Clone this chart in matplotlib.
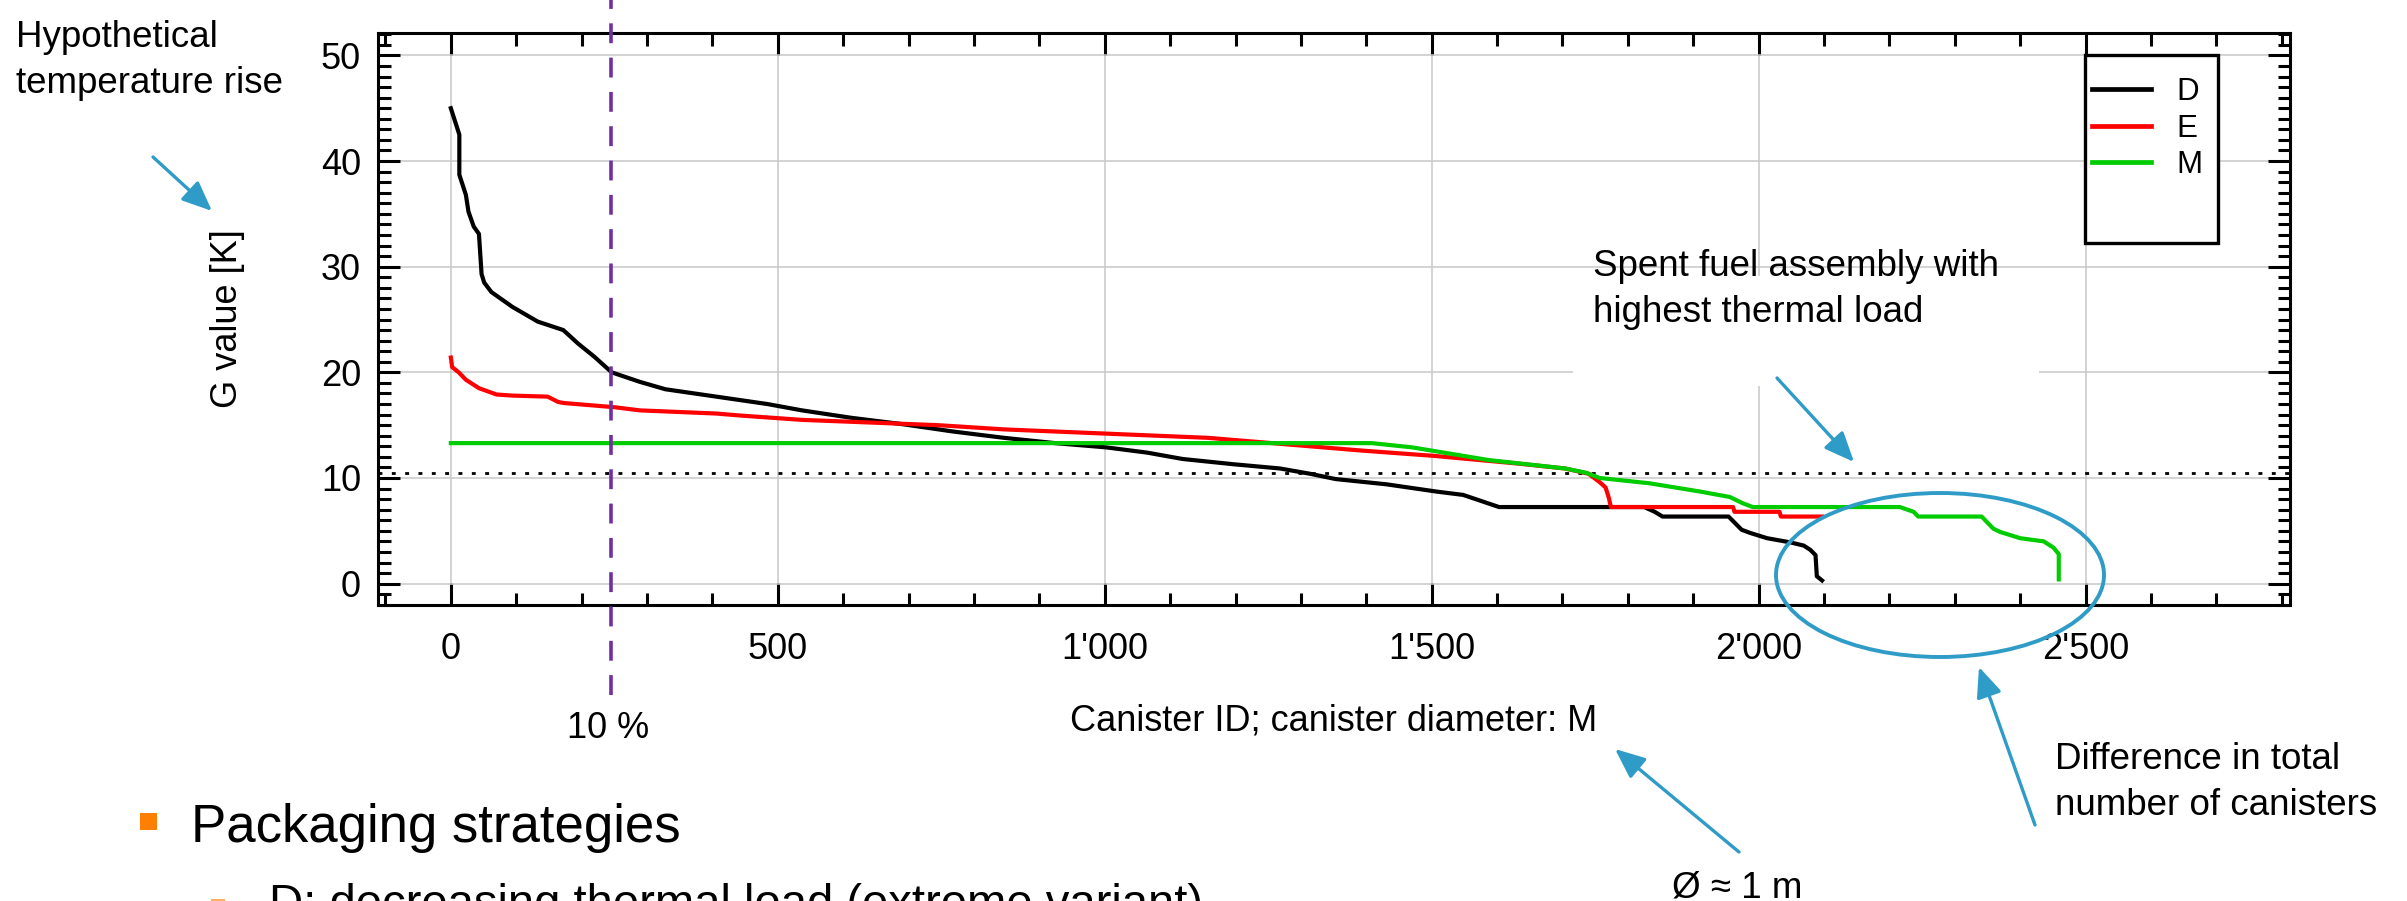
import matplotlib.pyplot as plt
from matplotlib.ticker import MultipleLocator, FuncFormatter
from matplotlib.patches import Ellipse, Rectangle, FancyArrowPatch

plt.rcParams['font.family'] = ['Liberation Sans', 'DejaVu Sans']

# G value per canister, sorted
d_x = [0, 13, 13, 23, 27, 35, 43, 47, 51, 62, 94, 133, 172, 195, 219, 246, 289,
       328, 406, 484, 537, 612, 690, 768, 846, 924, 1002, 1065, 1119, 1197, 1268,
       1314, 1353, 1431, 1509, 1548, 1572, 1603, 1825, 1841, 1853, 1954, 1974,
       1987, 2013, 2049, 2069, 2079, 2087, 2089, 2097]
d_y = [45.0, 42.5, 38.7, 36.8, 35.2, 33.8, 33.1, 29.3, 28.5, 27.6, 26.2, 24.8,
       24.0, 22.7, 21.5, 20.0, 19.1, 18.4, 17.7, 17.0, 16.4, 15.7, 15.1, 14.4,
       13.8, 13.3, 12.9, 12.4, 11.8, 11.3, 10.9, 10.4, 9.9, 9.4, 8.7, 8.4, 7.9,
       7.25, 7.25, 6.8, 6.35, 6.35, 5.1, 4.8, 4.3, 3.9, 3.6, 3.2, 2.7, 0.7, 0.3]

e_x = [0, 2, 12, 23, 43, 70, 94, 148, 164, 172, 250, 289, 406, 445, 537, 745,
       846, 1002, 1158, 1236, 1314, 1392, 1502, 1626, 1704, 1740, 1757, 1766,
       1771, 1774, 1961, 1963, 2032, 2034, 2097]
e_y = [21.4, 20.5, 20.0, 19.3, 18.5, 17.9, 17.8, 17.7, 17.2, 17.1, 16.7, 16.4,
       16.1, 15.9, 15.5, 15.0, 14.6, 14.2, 13.8, 13.4, 13.0, 12.6, 12.1, 11.4,
       10.9, 10.4, 9.6, 9.1, 8.1, 7.25, 7.25, 6.8, 6.8, 6.35, 6.35]

m_x = [0, 1408, 1470, 1509, 1587, 1704, 1736, 1757, 1833, 1912, 1956, 1976,
       1991, 2216, 2237, 2244, 2341, 2359, 2369, 2400, 2436, 2451, 2459, 2459]
m_y = [13.3, 13.3, 12.9, 12.5, 11.7, 10.9, 10.5, 10.0, 9.5, 8.7, 8.2, 7.6,
       7.25, 7.25, 6.8, 6.35, 6.35, 5.2, 4.9, 4.3, 4.0, 3.4, 2.8, 0.4]

labels = ['D', 'E', 'M']
colors = ['black', '#ff0000', '#00cc00']

g_max_assembly = 10.5   # dotted line
ten_percent = 245       # purple marker

BLUE = '#2f9bc7'
W, H = 2407, 901


def fpos(x, y):
    # pixel position (from top-left) -> figure fraction
    return x / W, 1 - y / H


fig = plt.figure(figsize=(W / 100, H / 100), dpi=100)
ax = fig.add_axes([377.6 / W, 1 - 605.3 / H, 1912 / W, 572.1 / H])

for xs, ys, lab, c in zip([d_x, e_x, m_x], [d_y, e_y, m_y], labels, colors):
    ax.plot(xs, ys, color=c, lw=3.0, label=lab, zorder=3)

ax.axhline(g_max_assembly, color='black', lw=2.0, dashes=(1.4, 3.4), zorder=2)
ax.axvline(ten_percent, ymin=-0.157, ymax=1.06, color='#7030a0', lw=2.6,
           dashes=(5.5, 4), clip_on=False, zorder=4)

ax.set_xlim(-112, 2812)
ax.set_ylim(-2.05, 52.1)
ax.xaxis.set_major_locator(MultipleLocator(500))
ax.xaxis.set_minor_locator(MultipleLocator(100))
ax.yaxis.set_major_locator(MultipleLocator(10))
ax.yaxis.set_minor_locator(MultipleLocator(1))
ax.xaxis.set_major_formatter(FuncFormatter(lambda v, p: f"{int(round(v)):,}".replace(',', "'")))
ax.yaxis.set_major_formatter(FuncFormatter(lambda v, p: f"{int(round(v))}"))

ax.tick_params(which='both', direction='in', top=True, right=True, width=2.2,
               labelsize=26)
ax.tick_params(which='major', length=16)
ax.tick_params(which='minor', length=9)
ax.tick_params(axis='x', pad=19)
ax.tick_params(axis='y', pad=12)
for s in ax.spines.values():
    s.set_linewidth(2.2)

ax.grid(True, which='major', color='#c8c8c8', lw=1.1)
ax.set_axisbelow(True)

ax.set_xlabel('Canister ID; canister diameter: M', fontsize=26)
ax.xaxis.set_label_coords(0.5, -0.1708)
ax.set_ylabel('G value [K]', fontsize=26)
ax.yaxis.set_label_coords(-0.0694, 0.502)

# legend with a taller white frame
ax.add_patch(Rectangle((0.893, 0.633), 0.0696, 0.329, transform=ax.transAxes,
                       fc='white', ec='black', lw=2.4, zorder=5))
leg = ax.legend(loc='upper left', bbox_to_anchor=(0.8967, 0.924), frameon=False,
                fontsize=22.5, handlelength=1.9, handletextpad=0.8,
                labelspacing=0.22, borderpad=0, borderaxespad=0)
leg.set_zorder(6)
for ln in leg.get_lines():
    ln.set_linewidth(3.4)

# annotations
def arrow(p0, p1):
    fig.add_artist(FancyArrowPatch(fpos(*p0), fpos(*p1), transform=fig.transFigure,
                                   arrowstyle='-|>,head_length=0.7,head_width=0.3',
                                   mutation_scale=26, color=BLUE, lw=2.4,
                                   shrinkA=0, shrinkB=0, zorder=6))


fig.text(*fpos(16, 93), 'Hypothetical\ntemperature rise', fontsize=26.5,
         va='baseline', linespacing=1.42)
arrow((153, 157), (212, 211))

fig.add_artist(Rectangle(fpos(1573, 386), 466 / W, 110 / H, transform=fig.transFigure,
                         fc='white', ec='none', zorder=1))
fig.text(*fpos(1593, 322), 'Spent fuel assembly with\nhighest thermal load',
         fontsize=26.5, va='baseline', linespacing=1.42, zorder=3)
arrow((1777, 378), (1854, 462))

fig.add_artist(Ellipse(fpos(1940, 575), 328 / W, 164 / H, transform=fig.transFigure,
                       fill=False, ec=BLUE, lw=2.8, zorder=6))
fig.text(*fpos(2055, 815), 'Difference in total\nnumber of canisters',
         fontsize=26.5, va='baseline', linespacing=1.42)
arrow((2035, 825), (1979, 667))

fig.text(*fpos(1672, 898), 'Ø ≈ 1 m', fontsize=26.5, va='baseline')
arrow((1739, 852), (1615, 749))

fig.text(*fpos(608, 738), '10 %', fontsize=26, ha='center', va='baseline')

fig.add_artist(Rectangle(fpos(140, 830), 17 / W, 17 / H, transform=fig.transFigure,
                         fc='#ff8000', ec='none'))
fig.text(*fpos(191, 842), 'Packaging strategies', fontsize=38, va='baseline')
fig.add_artist(Rectangle(fpos(211, 913), 14 / W, 14 / H, transform=fig.transFigure,
                         fc='#ffb060', ec='none'))
fig.text(*fpos(269, 917), 'D: decreasing thermal load (extreme variant)',
         fontsize=34, va='baseline')

fig.savefig('out.png', dpi=100)
